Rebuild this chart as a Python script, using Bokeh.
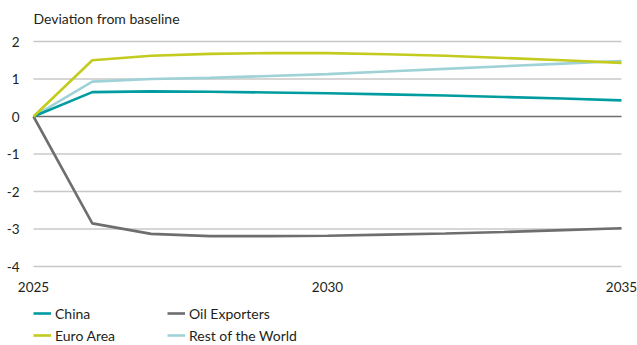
from bokeh.plotting import figure
from bokeh.models import Legend, LegendItem, Range1d, FixedTicker, ColumnDataSource, Label
from bokeh.embed import file_html
from bokeh.resources import INLINE

years = [2025, 2026, 2027, 2028, 2029, 2030, 2031, 2032, 2033, 2034, 2035]
china = [0, 0.65, 0.67, 0.66, 0.64, 0.62, 0.59, 0.56, 0.52, 0.48, 0.43]
euro = [0, 1.50, 1.62, 1.67, 1.69, 1.69, 1.66, 1.62, 1.56, 1.50, 1.43]
oil = [0, -2.85, -3.13, -3.19, -3.19, -3.18, -3.15, -3.12, -3.08, -3.03, -2.98]
row = [0, 0.93, 1.00, 1.03, 1.08, 1.13, 1.20, 1.27, 1.34, 1.41, 1.48]
y_ticks = [2, 1, 0, -1, -2, -3, -4]
x_ticks = [2025, 2030, 2035]
title_text = "Deviation from baseline"

colors = {"China": "#009ca0", "Euro Area": "#c2cb1e", "Oil Exporters": "#6d6e70", "Rest of the World": "#9fd2d7"}
FONT = "Lato"

W, H = 637, 345
# frame covers the whole page; plotting area: x 33..621, y 41..266
px_per_year = (621 - 33) / (x_ticks[-1] - x_ticks[0])
px_per_unit = (266 - 41) / (y_ticks[0] - y_ticks[-1])
x_lo = x_ticks[0] - 33 / px_per_year
x_hi = x_ticks[-1] + (W - 621) / px_per_year
y_hi = y_ticks[0] + 41 / px_per_unit
y_lo = y_ticks[-1] - (H - 266) / px_per_unit

p = figure(width=W, height=H, output_backend="svg", toolbar_location=None,
           x_range=Range1d(x_lo, x_hi), y_range=Range1d(y_lo, y_hi),
           min_border=0)
p.outline_line_color = None
p.background_fill_color = "white"
p.border_fill_color = "white"

for ax in (p.xaxis, p.yaxis):
    ax.axis_line_color = None
    ax.major_tick_line_color = None
    ax.minor_tick_line_color = None
    ax.major_label_text_font = FONT
    ax.major_label_text_font_size = "13.5px"
    ax.major_label_text_color = "#231f20"
p.xaxis.ticker = FixedTicker(ticks=x_ticks)
p.xaxis.fixed_location = y_ticks[-1]
p.yaxis.ticker = FixedTicker(ticks=y_ticks)
p.yaxis.fixed_location = x_ticks[0]
p.yaxis.major_label_overrides = {t: str(t) for t in y_ticks}
p.xaxis.major_label_standoff = 9
p.yaxis.major_label_standoff = 8
p.xgrid.grid_line_color = None
p.ygrid.grid_line_color = None

# horizontal gridlines between first and last year
grid_src = ColumnDataSource(dict(x0=[x_ticks[0]] * len(y_ticks), x1=[x_ticks[-1]] * len(y_ticks),
                                 y=y_ticks,
                                 c=["#6d6e70" if t == 0 else "#c8c8c8" for t in y_ticks]))
p.segment(x0="x0", y0="y", x1="x1", y1="y", source=grid_src, line_color="c", line_width=1.3)

renderers = {}
for name, vals in [("Rest of the World", row), ("China", china), ("Oil Exporters", oil), ("Euro Area", euro)]:
    src = ColumnDataSource(dict(x=years, y=vals))
    renderers[name] = p.line("x", "y", source=src, line_color=colors[name], line_width=2.6)

items = [LegendItem(label=n, renderers=[renderers[n]]) for n in ["China", "Euro Area", "Oil Exporters", "Rest of the World"]]
legend = Legend(items=items, ncols=2, location=(33, 1), label_text_font=FONT, label_text_font_size="14px",
                label_text_color="#231f20", glyph_width=18, glyph_height=14, spacing=4, padding=0, margin=0,
                border_line_color=None, background_fill_alpha=0, label_standoff=4, label_height=18,
                label_width=108)
p.add_layout(legend, "center")

p.add_layout(Label(x=x_ticks[0], y=y_ticks[0], y_offset=23, text=title_text, text_font=FONT,
                   text_font_size="14px", text_color="#231f20", text_baseline="middle", text_align="left"))

open("out.html", "w").write(file_html(p, INLINE))
